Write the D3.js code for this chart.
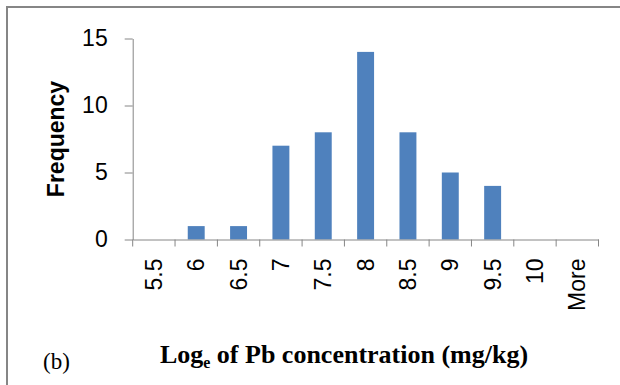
<!DOCTYPE html>
<html>
<head>
<meta charset="utf-8">
<script src="https://cdn.jsdelivr.net/npm/d3@7"></script>
<style>
  html, body { margin: 0; padding: 0; background: #fff; overflow: hidden; }
  svg { display: block; }
</style>
</head>
<body>
<script>
// histogram bins (upper edge) and their counts
const bins = ["5.5", "6", "6.5", "7", "7.5", "8", "8.5", "9", "9.5", "10", "More"];
const counts = [0, 1, 1, 7, 8, 14, 8, 5, 4, 0, 0];
const yTicks = [0, 5, 10, 15];

const width = 620;
const height = 385;
const margin = { top: 38.5, right: 21.5, bottom: 145.5, left: 132.7 };
const labelFont = "Liberation Sans, Arial, sans-serif";

const svg = d3.select("body").append("svg")
  .attr("width", width)
  .attr("height", height);

// outer chart frame (right/bottom edges fall outside the picture)
svg.append("rect")
  .attr("x", 7).attr("y", 7)
  .attr("width", 700).attr("height", 500)
  .attr("fill", "none")
  .attr("stroke", "#868686")
  .attr("stroke-width", 2);

const x = d3.scaleBand()
  .domain(bins)
  .range([margin.left, width - margin.right])
  .padding(0);

const y = d3.scaleLinear()
  .domain([0, 15])
  .range([height - margin.bottom, margin.top]);

const data = bins.map((b, i) => ({ bin: b, count: counts[i] }));

// bars
svg.append("g")
  .attr("fill", "#4F81BD")
  .selectAll("rect")
  .data(data.filter(d => d.count > 0))
  .join("rect")
  .attr("x", d => x(d.bin) + x.bandwidth() * 0.3)
  .attr("width", x.bandwidth() * 0.4)
  .attr("y", d => y(d.count))
  .attr("height", d => y(0) - y(d.count));

// y axis
const gy = svg.append("g")
  .attr("transform", `translate(${margin.left},0)`)
  .call(d3.axisLeft(y).tickValues(yTicks).tickSize(8).tickPadding(17).tickSizeOuter(0));
gy.selectAll("text")
  .attr("font-family", labelFont)
  .attr("font-size", 23)
  .attr("fill", "#000");

// x axis: ticks sit between categories
const gx = svg.append("g")
  .attr("transform", `translate(0,${y(0)})`)
  .call(d3.axisBottom(x).tickSize(0).tickPadding(0).tickSizeOuter(0));
gx.selectAll(".tick text")
  .attr("font-family", labelFont)
  .attr("font-size", 23)
  .attr("fill", "#000")
  .attr("text-anchor", "end")
  .attr("dy", "0.35em")
  .attr("transform", "translate(0,19) rotate(-90)");
const edges = bins.map(b => x(b)).concat([x.range()[1]]);
gx.selectAll(".edge")
  .data(edges)
  .join("line")
  .attr("class", "edge")
  .attr("x1", d => d).attr("x2", d => d)
  .attr("y1", 0).attr("y2", 7)
  .attr("stroke", "#868686");

svg.selectAll(".domain, .tick line").attr("stroke", "#868686");

// axis titles
svg.append("text")
  .attr("transform", "translate(64,139) rotate(-90)")
  .attr("text-anchor", "middle")
  .attr("font-family", labelFont)
  .attr("font-weight", "bold")
  .attr("font-size", 23)
  .text("Frequency");

const title = svg.append("text")
  .attr("x", 344)
  .attr("y", 363)
  .attr("text-anchor", "middle")
  .attr("font-family", "Liberation Serif, Times New Roman, serif")
  .attr("font-weight", "bold")
  .attr("font-size", 26);
title.append("tspan").text("Log");
title.append("tspan").attr("font-size", 16).attr("dy", 5).text("e");
title.append("tspan").attr("dy", -5).text(" of Pb concentration (mg/kg)");

svg.append("text")
  .attr("x", 43)
  .attr("y", 369)
  .attr("font-family", "Liberation Serif, Times New Roman, serif")
  .attr("font-size", 23)
  .text("(b)");
</script>
</body>
</html>
